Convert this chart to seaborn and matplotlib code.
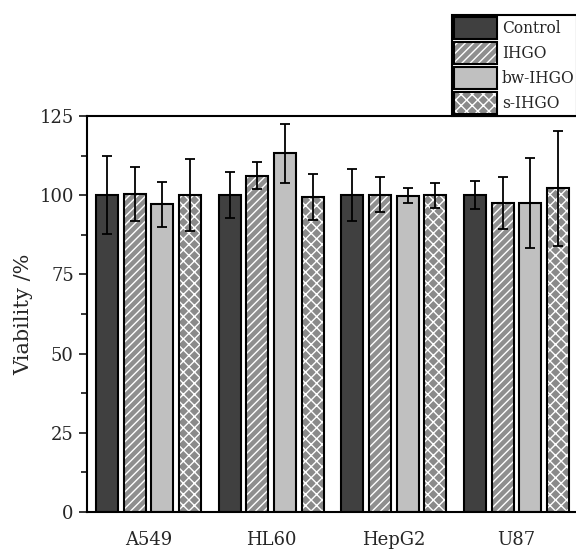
import matplotlib
matplotlib.use('Agg')
import matplotlib.pyplot as plt
import seaborn as sns
import pandas as pd
from matplotlib.patches import Rectangle, Patch
from matplotlib.ticker import MultipleLocator
from matplotlib.legend_handler import HandlerTuple

cell_lines = ['A549', 'HL60', 'HepG2', 'U87']
groups = ['Control', 'IHGO', 'bw-IHGO', 's-IHGO']
control = [100.0, 100.0, 100.0, 100.0]
control_err = [12.4, 7.3, 8.3, 4.5]
ihgo = [100.4, 106.2, 100.2, 97.5]
ihgo_err = [8.4, 4.2, 5.5, 8.2]
bw_ihgo = [97.1, 113.2, 99.9, 97.5]
bw_ihgo_err = [7.0, 9.3, 2.4, 14.1]
s_ihgo = [100.0, 99.4, 100.0, 102.2]
s_ihgo_err = [11.3, 7.3, 4.0, 18.1]

colors = ['#404040', '#8f8f8f', '#c0c0c0', '#8a8a8a']
hatches = [None, '////', None, 'xxx']

sns.set_style('ticks')
plt.rcParams['font.family'] = ['DejaVu Serif']
plt.rcParams['hatch.linewidth'] = 1.0

vals = [control, ihgo, bw_ihgo, s_ihgo]
errs = [control_err, ihgo_err, bw_ihgo_err, s_ihgo_err]
rows = []
for g, v, e in zip(groups, vals, errs):
    for c, vv, ee in zip(cell_lines, v, e):
        rows.append({'cell': c, 'group': g, 'viability': vv, 'err': ee})
df = pd.DataFrame(rows)

fig = plt.figure(figsize=(5.76, 5.52), dpi=100)
ax = fig.add_axes([87/576, 1 - 512/552, 491/576, 396/552])

sns.barplot(data=df, x='cell', y='viability', hue='group', hue_order=groups,
            order=cell_lines, palette=colors, width=0.9, gap=0.2,
            errorbar=None, edgecolor='black', linewidth=1.5, ax=ax, legend=False)

bar_containers = list(ax.containers)
for ci, cont in enumerate(bar_containers):
    sub = df[df['group'] == groups[ci]].set_index('cell').loc[cell_lines]
    for bar, err in zip(cont, sub['err']):
        x = bar.get_x() + bar.get_width() / 2
        h = bar.get_height()
        if hatches[ci]:
            bar.set_hatch(hatches[ci])
            bar.set_edgecolor('white')
            bar.set_linewidth(0)
            ax.add_patch(Rectangle((bar.get_x(), 0), bar.get_width(), h,
                                   fill=False, edgecolor='black', linewidth=1.5, zorder=bar.get_zorder() + 0.1))
        ax.errorbar(x, h, yerr=err, color='black', capsize=3.3, elinewidth=1.3,
                    capthick=1.3, zorder=5)

ax.set_xlim(-0.5, 3.5)
ax.set_ylim(0, 125)
ax.yaxis.set_major_locator(MultipleLocator(25))
ax.yaxis.set_minor_locator(MultipleLocator(12.5))
ax.tick_params(axis='y', which='major', direction='out', length=6, width=1.3, labelsize=13)
ax.tick_params(axis='y', which='minor', direction='out', length=4, width=1.3)
ax.tick_params(axis='x', length=0, pad=14, labelsize=13)
ax.set_xlabel('')
ax.set_ylabel('Viability /%', fontsize=15)
ax.yaxis.set_label_coords(-0.11, 0.5)
for sp in ax.spines.values():
    sp.set_linewidth(1.5)
    sp.set_color('black')

handles = []
for c, h in zip(colors, hatches):
    if h:
        handles.append((Patch(facecolor=c, edgecolor='white', hatch=h, linewidth=0),
                        Patch(fill=False, edgecolor='black', linewidth=1.5)))
    else:
        handles.append(Patch(facecolor=c, edgecolor='black', linewidth=1.5))
leg = fig.legend(handles, groups, loc='lower left', bbox_to_anchor=(452/576, 1 - 116/552),
                 handler_map={tuple: HandlerTuple(ndivide=1)}, fontsize=11.2,
                 handlelength=2.75, handleheight=1.75, labelspacing=0.22, handletextpad=0.3,
                 borderpad=0.15, borderaxespad=0, fancybox=False, framealpha=1,
                 edgecolor='black')
leg.get_frame().set_linewidth(1.5)

fig.savefig('out.png', dpi=100)
